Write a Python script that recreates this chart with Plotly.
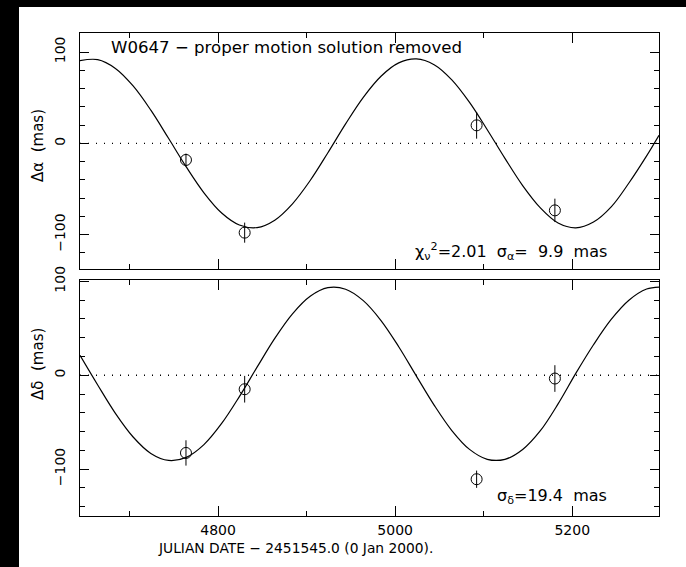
import plotly.graph_objects as go

# ---------------- data ----------------
curve_days = [4644, 4664, 4684, 4704, 4724, 4744, 4764, 4784, 4804, 4824, 4844,
              4864, 4884, 4904, 4924, 4944, 4964, 4984, 5004, 5024, 5044, 5064,
              5084, 5104, 5124, 5144, 5164, 5184, 5204, 5224, 5244, 5264, 5284, 5298]
alpha_curve = [90.5, 91.6, 82.0, 62.8, 36.3, 5.5, -25.8, -54.2, -76.3, -89.4, -92.2,
               -84.1, -66.2, -40.7, -10.3, 21.3, 50.4, 73.5, 88.1, 92.4, 86.1, 69.5,
               44.8, 14.9, -16.5, -46.3, -70.7, -87.3, -92.5, -86.2, -69.6, -43.4, -13.7, 8.9]
delta_curve = [21.2, -10.4, -40.6, -65.8, -83.3, -90.8, -87.5, -73.9, -51.4, -22.8, 8.6,
               39.3, 65.5, 84.2, 93.3, 91.7, 79.5, 58.3, 30.4, -0.9, -31.8, -58.9,
               -79.0, -89.6, -89.6, -79.1, -59.1, -30.5, 2.0, 32.5, 59.5, 80.0, 91.9, 94.0]

obs_days = [4763.7, 4830.0, 5092.0, 5180.4]
dra = [-18.2, -97.8, 19.7, -73.4]
dra_err = [7.0, 11.0, 14.6, 12.8]
ddec = [-82.8, -14.9, -110.8, -3.5]
ddec_err = [13.5, 14.2, 9.2, 14.2]

x_range = [4644, 5298]
ra_range = [-137.6, 120.8]
dec_range = [-150.0, 101.5]

title_text = "W0647 \u2212 proper motion solution removed"
ra_stats = "\u03c7<sub>\u03bd</sub><sup>2</sup>=2.01  \u03c3<sub>\u03b1</sub>=  9.9  mas"
dec_stats = "\u03c3<sub>\u03b4</sub>=19.4  mas"
x_title = "JULIAN DATE \u2212 2451545.0 (0 Jan 2000)."
ra_label = "\u0394\u03b1  (mas)"
dec_label = "\u0394\u03b4  (mas)"

FONT = "DejaVu Sans"
W, H = 686, 567
ML, MR, MT, MB = 80, 27, 33, 51

fig = go.Figure()

line_style = dict(color="black", width=1.2, shape="spline", smoothing=1.0)
marker_style = dict(symbol="circle-open", size=11, color="black", line=dict(color="black", width=1))

# top panel (alpha)
fig.add_trace(go.Scatter(x=curve_days, y=alpha_curve, mode="lines", line=line_style,
                         xaxis="x2", yaxis="y2", showlegend=False, hoverinfo="skip"))
fig.add_trace(go.Scatter(x=obs_days, y=dra, mode="markers", marker=marker_style,
                         error_y=dict(type="data", array=dra_err, color="black", thickness=1, width=0),
                         xaxis="x2", yaxis="y2", showlegend=False))
# bottom panel (delta)
fig.add_trace(go.Scatter(x=curve_days, y=delta_curve, mode="lines", line=line_style,
                         xaxis="x", yaxis="y", showlegend=False, hoverinfo="skip"))
fig.add_trace(go.Scatter(x=obs_days, y=ddec, mode="markers", marker=marker_style,
                         error_y=dict(type="data", array=ddec_err, color="black", thickness=1, width=0),
                         xaxis="x", yaxis="y", showlegend=False))

# dotted zero lines
for yr, xr in (("y", "x"), ("y2", "x2")):
    fig.add_shape(type="line", xref=xr + " domain", yref=yr, x0=0, x1=1, y0=0, y1=0,
                  line=dict(color="black", width=1.3, dash="1px,7px"), layer="below")

gap = 11
panel_h = (H - MT - MB - gap) / 2
plot_h = H - MT - MB
d_bottom = [0, panel_h / plot_h]
d_top = [(panel_h + gap) / plot_h, 1]

common_x = dict(range=x_range, showline=True, linecolor="black", linewidth=1, mirror="ticks",
                ticks="inside", ticklen=10, tickcolor="black", tickwidth=1, dtick=200, tick0=0,
                minor=dict(ticks="inside", ticklen=5, dtick=100, tick0=0, tickcolor="black", tickwidth=1),
                showgrid=False, zeroline=False)
common_y = dict(showline=True, linecolor="black", linewidth=1, mirror="ticks",
                ticks="inside", ticklen=9, tickcolor="black", tickwidth=1, dtick=100, tick0=0,
                minor=dict(ticks="inside", ticklen=5, dtick=20, tick0=0, tickcolor="black", tickwidth=1),
                showgrid=False, zeroline=False, tickangle=-90, ticklabelstandoff=8,
                tickfont=dict(family=FONT, size=14, color="black"))

fig.update_layout(
    width=W, height=H,
    margin=dict(l=ML, r=MR, t=MT, b=MB),
    paper_bgcolor="white", plot_bgcolor="white",
    font=dict(family=FONT, color="black"),
    xaxis=dict(common_x, anchor="y", domain=[0, 1], showticklabels=True, ticklabelstandoff=1,
               tickfont=dict(family=FONT, size=14, color="black")),
    yaxis=dict(common_y, anchor="x", domain=d_bottom, range=dec_range),
    xaxis2=dict(common_x, anchor="y2", domain=[0, 1], showticklabels=False),
    yaxis2=dict(common_y, anchor="x2", domain=d_top, range=ra_range),
)

def px_x(p):
    return (p - ML) / (W - ML - MR)

def px_y(p):
    return (H - MB - p) / plot_h

annots = [
    dict(text=title_text, x=px_x(109), y=px_y(48), xanchor="left", yanchor="middle", size=16.6),
    dict(text=ra_stats, x=px_x(609), y=px_y(252), xanchor="right", yanchor="middle", size=16),
    dict(text=dec_stats, x=px_x(609), y=px_y(496), xanchor="right", yanchor="middle", size=16),
    dict(text=x_title, x=px_x(295), y=px_y(548), xanchor="center", yanchor="middle", size=13.8),
]
for a in annots:
    fig.add_annotation(text=a["text"], x=a["x"], y=a["y"], xref="paper", yref="paper",
                       xanchor=a["xanchor"], yanchor=a["yanchor"], showarrow=False,
                       font=dict(family=FONT, size=a["size"], color="black"))
for txt, yc in ((ra_label, 146), (dec_label, 364)):
    fig.add_annotation(text=txt, x=px_x(38), y=px_y(yc), xref="paper", yref="paper",
                       xanchor="center", yanchor="middle", textangle=-90, showarrow=False,
                       font=dict(family=FONT, size=15, color="black"))

# black frame strips at the top and left of the image
fig.add_shape(type="rect", xref="paper", yref="paper", x0=px_x(0), x1=px_x(19), y0=px_y(H), y1=px_y(0),
              fillcolor="black", line=dict(width=0), layer="above")
fig.add_shape(type="rect", xref="paper", yref="paper", x0=px_x(0), x1=px_x(W), y0=px_y(7), y1=px_y(-2),
              fillcolor="black", line=dict(width=0), layer="above")

fig.write_html("out.html", config={"displayModeBar": False},
               post_script="document.body.style.margin='0';document.body.style.overflow='hidden';")
